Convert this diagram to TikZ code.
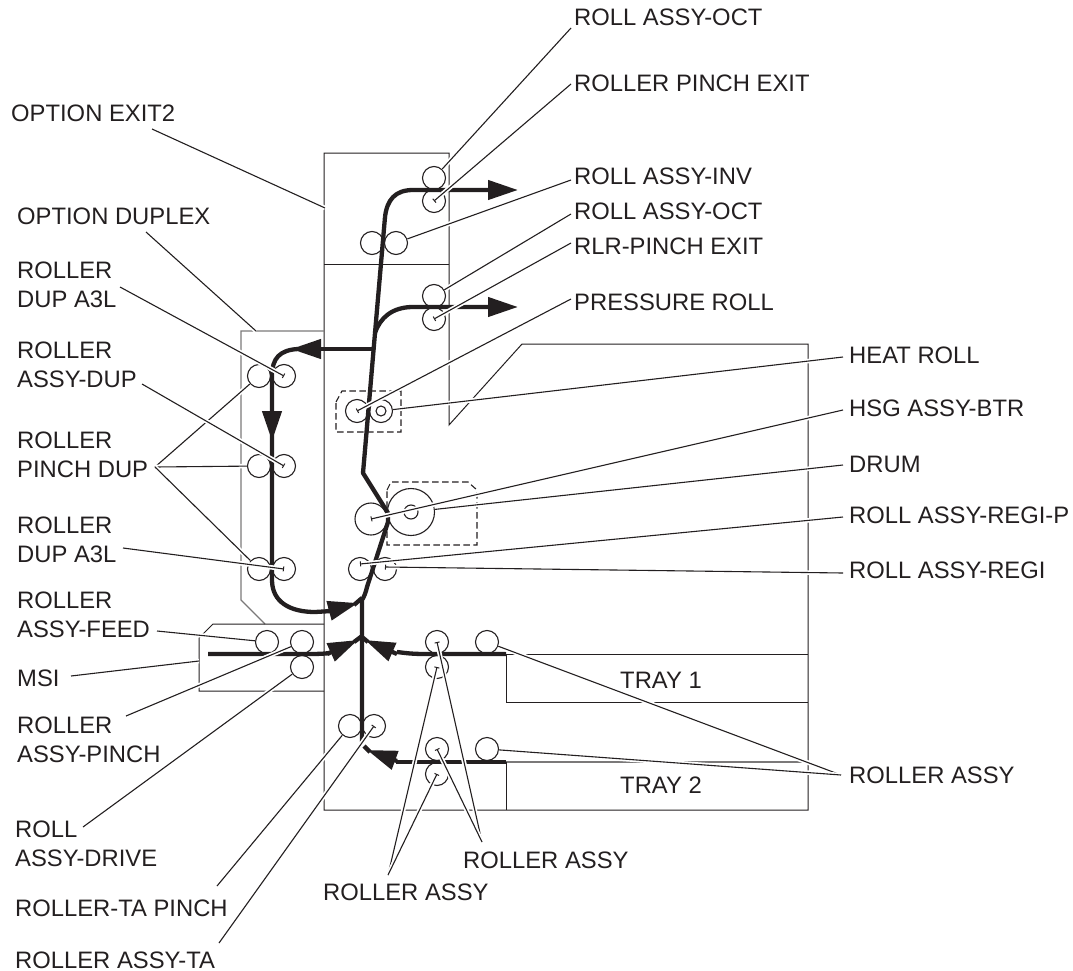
\documentclass[tikz,border=0pt]{standalone}
\usepackage{fontspec}
\setmainfont{Liberation Sans}
\usetikzlibrary{arrows.meta}
\definecolor{ink}{HTML}{231F20}
\tikzset{
	lbl/.style={anchor=base west, inner sep=0pt, align=left, text=ink, font=\fontsize{23.8}{29}\selectfont},
	frame/.style={draw=ink, line width=1pt, line join=miter},
	greyframe/.style={draw=ink!60, line width=1.2pt},
	cutline/.style={draw=ink, line width=1.1pt, dash pattern=on 6.5pt off 3.5pt},
	roller/.style={shape=circle, draw=ink, line width=1.1pt, inner sep=0pt, minimum size=23pt},
	flow/.style={draw=ink, line width=4.3pt, line join=round},
	flowtip/.style={flow, -{Triangle[length=30pt,width=19pt]}},
	leader/.style={draw=ink, line width=1.1pt, preaction={draw=white, line width=4.5pt, -}},
	tick/.style={leader, -{Bar[width=5pt,line width=1pt]}}
}
\begin{document}
\begin{tikzpicture}[x=1pt,y=-1pt]
	\useasboundingbox (0,0) rectangle (1073,971);
	% housings
	\draw [frame] (449,425) -- (449,153) -- (324,153) -- (324,810) -- (808,810) -- (808,344) -- (522,344) -- cycle;
	\draw [frame] (324,264) -- (449,264);
	\draw [greyframe] (324,331) -- (241,331) -- (241,600) -- (265,624);
	\draw [frame] (324,624) -- (213,624) -- (199,638) -- (199,691) -- (324,691);
	\draw [frame] (506,654) -- (808,654);
	\draw [frame] (506,654) -- (506,702) -- (808,702);
	\draw [greyframe] (506,762) -- (808,762);
	\draw [frame] (506,762) -- (506,810);
	\draw [cutline] (336,402) -- (342,391) -- (401,391) -- (401,432) -- (336,432) -- cycle;
	\draw [cutline] (387,490) -- (391,482) -- (468,482) -- (477,490) -- (477,545) -- (387,545) -- cycle;
	% rollers
	\foreach \n/\x/\y in {octA/434/178, exitA/434/201, invL/372/243, invR/396/243,
			octB/434/296, exitB/434/319, a3lL/259/376, a3lR/284/376,
			dupL/259/466, dupR/284/466, lowL/259/569, lowR/284/569,
			regiP/360/569, regi/385/569, feed/267/642, pinch/302/642, drive/302/667,
			trayA/437/642, trayAb/437/667, trayAr/487/642,
			taL/350/726, taR/374/726,
			trayB/437/749, trayBb/437/774, trayBr/487/749,
			pressure/357/411, heat/381/411}
		\node [roller] (\n) at (\x,\y) {};
	\node [roller, minimum size=10pt] (heatcore) at (381,411) {};
	\node [roller, minimum size=32pt] (btr) at (371,519) {};
	\node [roller, minimum size=47pt] (drum) at (411,512) {};
	\node [roller, minimum size=14pt] (drumcore) at (411,512) {};
	% paper path
	\draw [flow] (362,742) -- (362,600) .. controls (364,597) and (366,592) .. (367,587) -- (388,522) -- (388,513) -- (363,473) -- (365,450) -- (375,333) -- (385,217);
	\draw [flowtip] (385,217) .. controls (387,200) and (395,190) .. (413,190) -- (518,190);
	\draw [flowtip] (375,333) .. controls (380,318) and (392,307) .. (413,307) -- (518,307);
	\draw [flowtip] (375,349) -- (291,349);
	\draw [flow] (298,349) .. controls (280,350) and (272,358) .. (272,376) -- (272,580) .. controls (272,602) and (290,612) .. (315,612) -- (332,611);
	\draw [flowtip] (272,400) -- (272,441);
	\draw [flowtip] (328,611) -- (358,603);
	\draw [flow] (354,605) -- (362,598);
	\draw [flow] (208,654) -- (305,654) .. controls (315,654) and (322,654) .. (330,653);
	\draw [flowtip] (327,654) -- (358,640);
	\draw [flow] (354,642) -- (362,636);
	\draw [flow] (506,654) -- (425,654) .. controls (412,654) and (405,653) .. (397,652);
	\draw [flowtip] (397,654) -- (365,640);
	\draw [flow] (368,642) -- (362,637);
	\draw [flow] (506,762) -- (396,762);
	\draw [flowtip] (397,761) -- (367,750);
	\draw [flow] (370,752) -- (364,746);
	% labels
	\foreach \n/\x/\y/\t in {lblOctA/574/26/ROLL ASSY-OCT, lblExitA/574/92/ROLLER PINCH EXIT,
			lblInv/574/184/ROLL ASSY-INV, lblOctB/574/219/ROLL ASSY-OCT,
			lblExitB/574/254/RLR-PINCH EXIT, lblPressure/574/310/PRESSURE ROLL,
			lblHeat/849/363/HEAT ROLL, lblBtr/849/416/HSG ASSY-BTR, lblDrum/849/472/DRUM,
			lblRegiP/849/523/ROLL ASSY-REGI-P, lblRegi/849/578/ROLL ASSY-REGI,
			lblTrayOne/620/688/TRAY 1, lblTrayTwo/620/793/TRAY 2,
			lblAssyR/849/783/ROLLER ASSY, lblAssyM/463/868/ROLLER ASSY, lblAssyL/323/900/ROLLER ASSY,
			lblOptExit/11/122/OPTION EXIT2, lblOptDup/17/224/OPTION DUPLEX,
			lblA3lA/17/307/ROLLER\\DUP A3L, lblDup/17/387/ROLLER\\ASSY-DUP,
			lblPinchDup/17/477/ROLLER\\PINCH DUP, lblA3lB/17/562/ROLLER\\DUP A3L,
			lblFeed/17/637/ROLLER\\ASSY-FEED, lblMsi/17/686/MSI,
			lblPinch/17/762/ROLLER\\ASSY-PINCH, lblDrive/15/866/ROLL\\ASSY-DRIVE,
			lblTaPinch/15/916/ROLLER-TA PINCH, lblTa/15/968/ROLLER ASSY-TA}
		\node [lbl] (\n) at (\x,\y) {\t};
	% free ends of the leaders
	\foreach \n/\x/\y in {fOctA/571/28, fExitA/571/84, fInv/571/180, fOctB/571/214, fExitB/571/243,
			fPressure/571/299, fHeat/843/357, fBtr/843/410, fDrum/843/465, fRegiP/843/517, fRegi/843/573,
			fAssyR/841/775, fAssyM/482/842, fAssyL/388/875, fOptExit/152/129, fOptDup/146/232,
			fA3lA/120/287, fDup/142/384, fPinchDup/155/467, fA3lB/123/548, fFeed/157/631,
			fMsi/71/676, fPinch/126/716, fDrive/83/827, fTaPinch/217/886, fTa/219/943,
			exitTwoEdge/325/208, dupEdge/256/331, msiEdge/199/661}
		\coordinate (\n) at (\x,\y);
	% leaders
	\foreach \a/\b in {fOctA/octA, fInv/invR, fOctB/octB, fHeat/heat, fDrum/drum, fAssyR/trayAr, fAssyR/trayBr,
			fOptExit/exitTwoEdge, fOptDup/dupEdge, fPinchDup/a3lL, fPinchDup/dupL, fPinchDup/lowL,
			fFeed/feed, fMsi/msiEdge, fPinch/pinch, fDrive/drive, fTaPinch/taL}
		\draw [leader] (\a) -- (\b);
	\foreach \a/\b in {fExitA/exitA, fExitB/exitB, fPressure/pressure, fBtr/btr, fA3lA/a3lR, fDup/dupR, fA3lB/lowR,
			fTa/taR, fAssyM/trayA, fAssyM/trayB, fAssyL/trayAb, fAssyL/trayBb}
		\draw [tick] (\a) -- (\b.center);
	\draw [tick] (fRegiP) -- ([yshift=5pt]regiP.center);
	\draw [tick] (fRegi) -- ([yshift=2pt]regi.center);
\end{tikzpicture}
\end{document}
